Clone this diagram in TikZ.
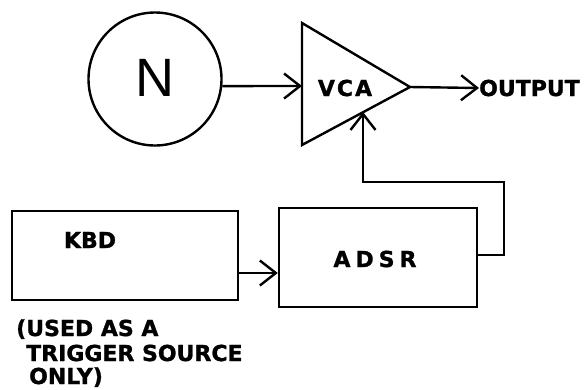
\documentclass[tikz,border=0pt]{standalone}
\usepackage{fontspec}
\setmainfont{DejaVu Sans}
\newfontfamily\heavy{DejaVu Sans Bold}[FakeBold=1.2]
\newfontfamily\nfont{Liberation Sans}
\usetikzlibrary{arrows.meta}
\tikzset{
  ln/.style={line width=2.4pt, line join=miter},
  arr/.style={ln, -{Straight Barb[length=16pt,width=25pt,line width=2.4pt]}},
  box/.style={draw, ln, inner sep=0pt},
  lbl/.style={font=\heavy\fontsize{22}{22}\selectfont, inner sep=0pt},
}
\begin{document}
\begin{tikzpicture}[x=1pt,y=-1pt]
\useasboundingbox (0,0) rectangle (588,389);
% noise source
\node[draw, ln, circle, minimum size=133pt, inner sep=0pt] (N) at (155,79) {};
\node[font=\nfont\fontsize{54}{54}\selectfont, inner sep=0pt] (Nt) at (155,78) {N};
% VCA triangle
\coordinate (vtl) at (302,23);
\coordinate (vbl) at (302,145);
\coordinate (vap) at (410,87);
\coordinate (vcain) at (302,86);
\coordinate (vcactl) at (363,112);
\draw[ln] (vtl) -- (vap) -- (vbl) -- cycle;
\node[lbl] (vca) at (345,88) {V\kern2pt C\kern2pt A};
% output
\node[lbl, anchor=west] (out) at (479,88) {OUTPUT};
% boxes
\node[box, minimum width=226pt, minimum height=89pt] (kbd) at (125,255.5) {};
\node[lbl] (kbdt) at (90,240) {KBD};
\node[box, minimum width=198pt, minimum height=99pt] (adsr) at (378,257.5) {};
\node[lbl] (adsrt) at (375,259) {A\kern5pt D\kern5pt S\kern5pt R};
% note
\node[lbl, anchor=base west] (n1) at (16,336) {(USED AS A};
\node[lbl, anchor=base west] (n2) at (26,361) {TRIGGER SOURCE};
\node[lbl, anchor=base west] (n3) at (29,384) {ONLY)};
% connectors
\coordinate (k1) at (0,273);
\coordinate (a1) at (0,255);
\coordinate (fb) at (504,182);
\draw[arr] (N.-6) -- (vcain);
\draw[arr] (vap) -- (out.west);
\draw[arr] (kbd.east |- k1) -- (adsr.west |- k1);
\draw[arr] (adsr.east |- a1) -| (fb) -| (vcactl);
\end{tikzpicture}
\end{document}
